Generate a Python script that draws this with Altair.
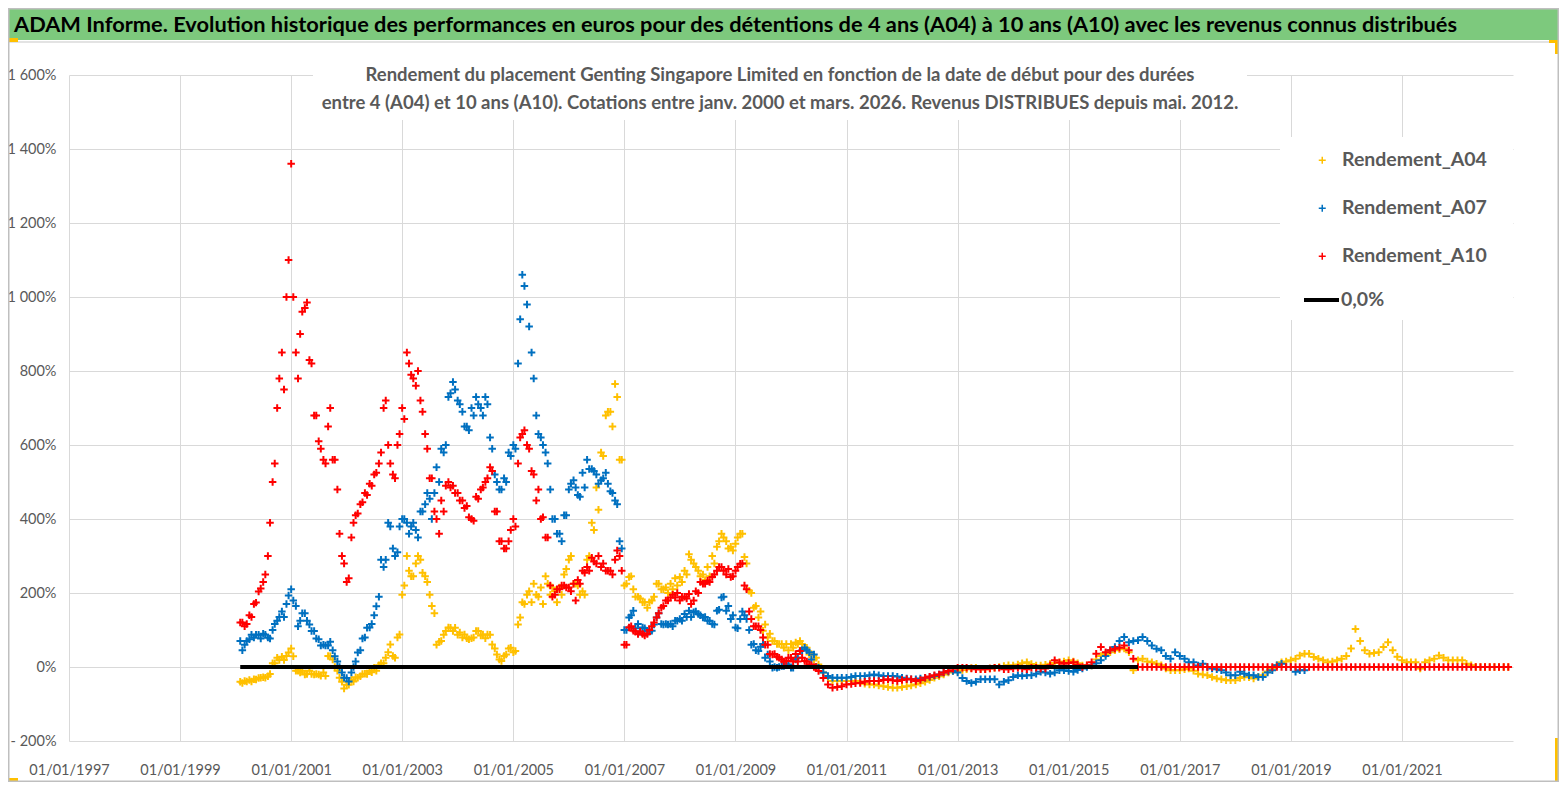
import altair as alt
import pandas as pd

# ---------------- data (values in %) ----------------
# Monthly readings (1st of each month), first month = 2000-02
START = "2000-02-01"
# Extra mid-month readings (15th of each month) for the volatile years, first month = 2000-02
MID_START = "2000-02-15"
ZERO_END = "2016-04-01"

A04 = [
    -40, -38, -35, -33, -30, -28, -25, 10, 25, 28, 30,                 # 2000 (Feb-Dec)
    50, -10, -15, -20, -10, -20, -20, -15, 30, 20, -10, -40,           # 2001
    -48, -35, -28, -25, -18, -10, -2, 5, 10, 40, 30, 80,               # 2002
    195, 300, 245, 280, 290, 245, 195, 145, 68, 87, 107, 97,           # 2003
    87, 80, 78, 78, 97, 85, 78, 87, 50, 20, 30, 50,                    # 2004
    40, 115, 175, 195, 175, 195, 215, 245, 195, 205, 215, 250,         # 2005
    290, 225, 220, 205, 290, 390, 485, 580, 680, 690, 765, 560,        # 2006
    220, 243, 210, 190, 175, 160, 180, 225, 210, 215, 225, 240,        # 2007
    243, 260, 305, 280, 260, 250, 270, 300, 325, 360, 340, 325,        # 2008
    333, 360, 297, 206, 160, 134, 98, 80, 70, 62, 62, 62,              # 2009
    62, 66, 70, 52, 34, 20, 7, -15, -29, -38, -38, -38,                # 2010
    -38, -38, -38, -40, -45, -47, -47, -50, -52, -54, -56, -56,        # 2011
    -54, -52, -50, -47, -44, -40, -35, -29, -25, -20, -15, -11,        # 2012
    -11, -8, -6, -3, -2, -5, -6, -4, -2, 0, 3, 5,                      # 2013
    4, 7, 10, 13, 8, 4, 4, 6, 9, 11, 13, 15,                           # 2014
    18, 15, 10, 4, 4, 4, 20, 30, 35, 40, 45, 48,                       # 2015
    50, 40, -9, 18, 22, 15, 13, 9, 5, -4, -9, -9,                      # 2016
    -9, -6, -4, -10, -18, -20, -22, -27, -31, -33, -36, -36,           # 2017
    -36, -30, -27, -28, -31, -26, -22, -12, -4, 5, 13, 15,             # 2018
    18, 22, 31, 36, 36, 27, 22, 18, 13, 15, 18, 22,                    # 2019
    30, 50, 103, 70, 45, 36, 38, 40, 54, 67, 45, 28,                   # 2020
    18, 13, 13, 13, -4, 13, 18, 22, 31, 25, 18, 18,                    # 2021
    18, 18, 9, 5, 0, 0, 0, 0, 0, 0, 0, 0,                              # 2022
]
A04_MID = [
    -43, -39, -39, -34, -29, -29, -19, 10, 19, 19, 39,                 # 2000 (Feb-Dec)
    29, -10, -10, -19, -19, -19, -24, -24, 29, 0, -29, -58,            # 2001
    -48, -39, -29, -19, -19, -14, -10, 10, 25, 61, 25, 88,             # 2002
    220, 260, 245, 300, 255, 230, 165, 60, 70, 97, 106, 106,           # 2003
    93, 88, 75, 80, 97, 88, 88, 61, 34, 16, 34, 52,                    # 2004
    43, 134, 170, 205, 225, 190, 170, 225, 215, 175, 195, 265,         # 2005
    300, 225, 195, 195, 300, 370, 425, 570, 690, 650, 730, 560,        # 2006
    225, 245, 190, 185, 175, 175, 190, 225, 210, 200, 210, 220,        # 2007
    230, 250, 290, 270, 245, 235, 245, 280, 340, 350, 320, 315,        # 2008
    350, 360, 280, 200, 165, 150, 115, 90, 70, 62, 52, 45,             # 2009
    52, 62, 62, 52, 35, 25,                                            # 2010 (Jan-Jun)
]

A07 = [
    70, 60, 75, 80, 87, 90, 80, 100, 125, 150, 170,                    # 2000 (Feb-Dec)
    210, 165, 125, 145, 115, 97, 75, 60, 58, 45, 15, -15,              # 2001
    -30, -15, 15, 45, 80, 107, 140, 190, 270, 390, 320, 310,           # 2002
    400, 390, 380, 370, 420, 440, 455, 470, 500, 580, 730, 770,        # 2003
    720, 690, 650, 700, 730, 700, 730, 620, 520, 480, 510, 580,        # 2004
    600, 820, 1060, 980, 850, 680, 620, 580, 480, 400, 360, 410,       # 2005
    480, 505, 465, 525, 560, 535, 520, 505, 525, 475, 450, 340,        # 2006
    100, 134, 152, 116, 107, 98, 98, 134, 116, 116, 116, 125,          # 2007
    130, 143, 152, 148, 143, 134, 125, 116, 152, 188, 152, 130,        # 2008
    107, 130, 140, 100, 62, 43, 62, 34, -2, -2, 3, 7,                  # 2009
    -2, 20, 43, 52, 40, 34, -2, -15, -24, -29, -29, -29,               # 2010
    -29, -27, -24, -24, -24, -22, -20, -22, -24, -24, -24, -26,        # 2011
    -29, -31, -33, -33, -31, -29, -27, -24, -20, -15, -12, -11,        # 2012
    -15, -30, -38, -43, -40, -33, -33, -33, -33, -47, -40, -36,        # 2013
    -27, -22, -24, -22, -22, -18, -13, -15, -18, -15, -9, -9,          # 2014
    -11, -13, -8, -4, 0, 4, 10, 18, 30, 45, 54, 70,                    # 2015
    81, 67, 70, 72, 81, 70, 58, 49, 45, 30, 22, 40,                    # 2016
    30, 22, 13, 13, 4, 9, 0, -4, -6, -9, -15, -22,                     # 2017
    -22, -13, -18, -22, -22, -27, -27, -15, -9, 5, 9, 0,               # 2018
    0, -13, -9, -9,                                                    # 2019 (Jan-Apr)
]
A07_MID = [
    45, 70, 87, 87, 77, 87, 77, 116, 135, 135, 193,                    # 2000 (Feb-Dec)
    180, 110, 145, 125, 97, 77, 58, 58, 68, 29, 0, -29,                # 2001
    -39, 0, 39, 77, 106, 116, 164, 290, 290, 380, 300, 380,            # 2002
    400, 360, 390, 350, 420, 470, 400, 540, 590, 600, 740, 750,        # 2003
    710, 650, 640, 680, 710, 680, 710, 590, 500, 480, 500, 570,        # 2004
    590, 940, 1030, 920, 780, 630, 600, 550, 400, 360, 340, 410,       # 2005
    495, 485, 460, 485, 535, 530, 495, 510, 495, 470, 440, 320,        # 2006
    100, 140, 105, 95, 105, 95, 115, 145, 115, 115, 110, 125,          # 2007
    125, 135, 135, 150, 140, 135, 125, 115, 155, 190, 165, 140,        # 2008
    105, 150, 130, 60, 45, 55, 25, 15, 0, 0, 3, 7,                     # 2009
    -2, 25, 45, 45, 20, 0,                                             # 2010 (Jan-Jun)
]

A10 = [
    120, 110, 140, 170, 204, 230, 300, 500, 700, 850, 1000,            # 2000 (Feb-Dec)
    1360, 850, 900, 970, 830, 680, 610, 560, 650, 560, 480, 300,       # 2001
    230, 350, 410, 440, 470, 495, 520, 550, 700, 600, 520, 600,        # 2002
    700, 850, 790, 760, 720, 630, 510, 420, 360, 420, 500, 490,        # 2003
    470, 450, 435, 400, 460, 480, 500, 540, 420, 340, 320, 340,        # 2004
    400, 550, 630, 600, 530, 450, 400, 350, 220, 195, 210, 220,        # 2005
    215, 225, 235, 260, 270, 295, 280, 270, 260, 260, 290, 300,        # 2006
    60, 107, 98, 89, 89, 89, 110, 134, 160, 180, 188, 188,             # 2007
    180, 190, 197, 180, 200, 225, 233, 243, 260, 270, 250, 243,        # 2008
    260, 279, 220, 150, 110, 110, 80, 60, 34, 28, 20, 16,              # 2009
    25, 35, 43, 16, 7, 0, -11, -30, -47, -56, -54, -52,                # 2010
    -47, -46, -44, -43, -40, -38, -38, -38, -35, -33, -36, -38,        # 2011
    -35, -33, -33, -38, -35, -29, -26, -22, -20, -15, -11, -5,         # 2012
    -2, -2, -2, -4, -6, -6, -6, -4, -2, -2, -6, -6,                    # 2013
    -4, -2, -4, -6, -2, -2, -4, -4, 5, 18, 12, 9,                      # 2014
    11, 13, 6, 0, 5, 13, 36, 54, 40, 45, 49, 52,                       # 2015
    58, 45, 22, 0, 0, 0, 0, 0, 0, 0, 0, 0,                             # 2016
    0, 0, 0, 0, 0, 0, 0, 0, 0, 0, 0, 0,                                # 2017
    0, 0, 0, 0, 0, 0, 0, 0, 0, 0, 0, 0,                                # 2018
    0, 0, 0, 0, 0, 0, 0, 0, 0, 0, 0, 0,                                # 2019
    0, 0, 0, 0, 0, 0, 0, 0, 0, 0, 0, 0,                                # 2020
    0, 0, 0, 0, 0, 0, 0, 0, 0, 0, 0, 0,                                # 2021
    0, 0, 0, 0, 0, 0, 0, 0, 0, 0, 0, 0,                                # 2022
]
A10_MID = [
    120, 116, 135, 174, 212, 250, 390, 550, 780, 750, 1100,            # 2000 (Feb-Dec)
    1000, 780, 960, 985, 820, 680, 590, 550, 700, 560, 360, 280,       # 2001
    240, 390, 415, 445, 465, 490, 525, 580, 720, 550, 510, 630,        # 2002
    670, 820, 780, 800, 690, 590, 510, 400, 450, 490, 485, 470,        # 2003
    450, 430, 405, 395, 455, 485, 510, 530, 420, 340, 320, 370,        # 2004
    380, 620, 640, 590, 520, 480, 405, 350, 190, 210, 220, 215,        # 2005
    205, 180, 225, 255, 260, 285, 300, 280, 260, 250, 315, 260,        # 2006
    60, 110, 95, 95, 85, 100, 120, 145, 165, 180, 195, 200,            # 2007
    190, 185, 170, 205, 230, 225, 230, 250, 270, 260, 265, 245,        # 2008
    270, 280, 210, 130, 110, 100, 60, 35, 35, 25, 15, 25,              # 2009
    15, 15, 25, 15, 5, 0,                                              # 2010 (Jan-Jun)
]

SERIES = ["Rendement_A04", "Rendement_A07", "Rendement_A10"]
COLORS = ["#FFC000", "#0070C0", "#FF0000"]
ZERO_LABEL = "0,0%"
ZERO_VALUES = [0, 0]
X_TICK_YEARS = list(range(1997, 2022, 2))
Y_TICKS = list(range(-200, 1601, 200))

TITLE = ("ADAM Informe. Evolution historique des performances en euros pour des détentions "
         "de 4 ans (A04) à 10 ans (A10) avec les revenus connus distribués")
SUB1 = "Rendement du placement Genting Singapore Limited en fonction de la date de début pour des durées"
SUB2 = ("entre 4 (A04) et 10 ans (A10).  Cotations entre janv. 2000 et mars. 2026. "
        "Revenus DISTRIBUES depuis mai. 2012.")

# ---------------- tables ----------------
def frame(name, values, start):
    dates = pd.date_range(start[:8] + "01", periods=len(values), freq="MS") + \
        pd.Timedelta(days=int(start[8:]) - 1)
    return pd.DataFrame({"date": dates, "serie": name, "value": values})


parts = []
for name, monthly, mid in zip(SERIES, [A04, A07, A10], [A04_MID, A07_MID, A10_MID]):
    parts.append(frame(name, monthly, START))
    parts.append(frame(name, mid, MID_START))
points_df = pd.concat(parts, ignore_index=True)
zero_df = pd.DataFrame({"date": pd.to_datetime([START, ZERO_END]), "serie": ZERO_LABEL, "value": ZERO_VALUES})

# ---------------- layout ----------------
FONT = "Lato, Roboto, sans-serif"
GRAY = "#595959"
TOTAL_W, TOTAL_H = 1551, 774
PL, PT, PW, PH = 61, 67, 1444, 666
PR, PB = TOTAL_W - PL - PW, TOTAL_H - PT - PH

one = pd.DataFrame({"k": [0]})


def box(x0, y0, x1, y1, **style):
    return alt.Chart(one).mark_rect(**style).encode(
        x=alt.value(x0 - PL), x2=alt.value(x1 - PL),
        y=alt.value(y0 - PT), y2=alt.value(y1 - PT))


def label(txt, x, y, **style):
    return alt.Chart(one).mark_text(text=txt, font=FONT, **style).encode(
        x=alt.value(x - PL), y=alt.value(y - PT))


xscale = alt.Scale(domain=[alt.DateTime(year=1997, month=1, date=1),
                           alt.DateTime(year=2023, month=1, date=1)])
yscale = alt.Scale(domain=[-200, 1600], nice=False, zero=False)

xaxis = alt.Axis(values=[alt.DateTime(year=y, month=1, date=1) for y in X_TICK_YEARS],
                 format="%d/%m/%Y", title=None, labelFont=FONT, labelFontSize=14.5,
                 labelColor=GRAY, labelFlush=False, labelOverlap=False, labelBound=False,
                 grid=True, gridColor="#D9D9D9", gridWidth=1, tickSize=0, domain=False,
                 labelPadding=22)
yaxis = alt.Axis(values=Y_TICKS, title=None, labelFont=FONT, labelFontSize=14.5, labelColor=GRAY,
                 grid=True, gridColor="#D9D9D9", gridWidth=1, tickSize=0, domain=False,
                 labelPadding=13,
                 labelExpr="datum.value < 0 ? '- ' + replace(format(-datum.value, ','), ',', ' ') + '%'"
                           " : replace(format(datum.value, ','), ',', ' ') + '%'")

CROSS = "M-1,0L1,0M0,-1L0,1"

points = alt.Chart(points_df).mark_point(
    shape=CROSS, filled=False, size=56, strokeWidth=2, opacity=1
).encode(
    x=alt.X("date:T", scale=xscale, axis=xaxis),
    y=alt.Y("value:Q", scale=yscale, axis=yaxis),
    color=alt.Color("serie:N", scale=alt.Scale(domain=SERIES, range=COLORS),
                    legend=alt.Legend(orient="none", legendX=1243.5, legendY=75.5, title=None,
                                      symbolType=CROSS, symbolSize=49, symbolStrokeWidth=1.5,
                                      labelFont=FONT, labelFontSize=19.5, labelFontWeight="bold",
                                      labelColor=GRAY, labelOffset=10, labelLimit=400,
                                      rowPadding=27, padding=0)),
)

zero = alt.Chart(zero_df).mark_line(strokeWidth=4).encode(
    x=alt.X("date:T", scale=xscale),
    y=alt.Y("value:Q", scale=yscale),
    stroke=alt.Stroke("serie:N", scale=alt.Scale(domain=[ZERO_LABEL], range=["#000000"]),
                      legend=alt.Legend(orient="none", legendX=1233, legendY=205.5, title=None,
                                        symbolType="stroke", symbolSize=1225, symbolStrokeWidth=4,
                                        labelFont=FONT, labelFontSize=19.5, labelFontWeight="bold",
                                        labelColor=GRAY, labelOffset=0, labelLimit=400, padding=0)),
)

layers = [
    box(1, 1, 1550, 32, fill="#7DC97D"),
    box(1, 33, 1550, 35, fill="#E3E3E3"),
    box(305, 44, 1239, 112, fill="white"),
    box(1272, 129, 1505, 312, fill="white"),
    points,
    zero,
    label(TITLE, 6, 17, align="left", baseline="middle", fontSize=21.8, fontWeight="bold", color="black"),
    label(SUB1, 772, 67, align="center", baseline="middle", fontSize=18.5, fontWeight="bold", color=GRAY),
    label(SUB2, 772, 95, align="center", baseline="middle", fontSize=18.5, fontWeight="bold", color=GRAY),
    box(0, 30, 10, 34, fill="#FFC000"),
    box(1541, 32, 1550, 35, fill="#FFC000"),
    box(1547, 32, 1550, 46, fill="#FFC000"),
    box(1547, 730, 1550, 773, fill="#FFC000"),
    box(0, 770, 10, 773, fill="#FFC000"),
    box(0.75, 0.75, 1550.25, 773.25, fillOpacity=0, stroke="#BFBFBF", strokeWidth=1.5),
]

chart = alt.layer(*layers).properties(
    width=PW, height=PH,
    padding={"left": PL, "top": PT, "right": PR, "bottom": PB},
    autosize=alt.AutoSizeParams(type="none"),
    background="white",
).configure_view(stroke=None)

chart.save("out.html", embed_options={"renderer": "svg", "actions": False})
